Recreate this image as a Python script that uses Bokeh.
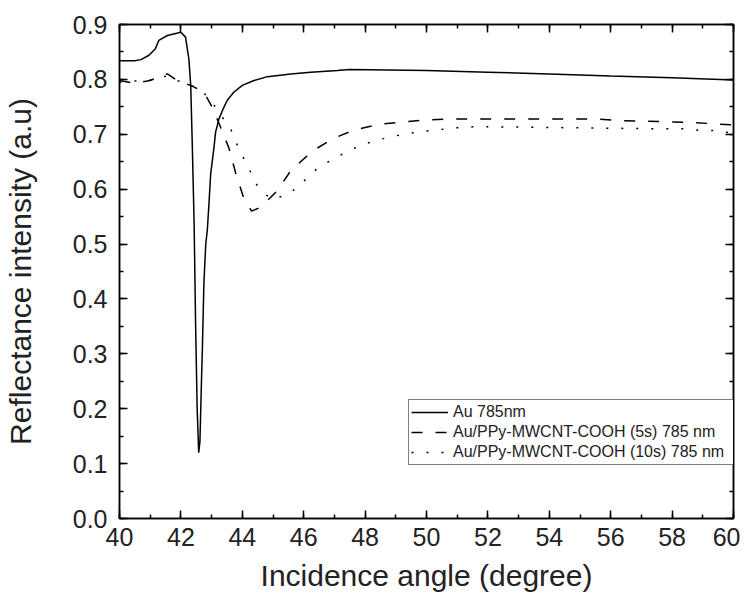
from bokeh.plotting import figure
from bokeh.models import (Range1d, LinearAxis, SingleIntervalTicker, NumeralTickFormatter,
                          Legend, LegendItem)
from bokeh.embed import file_html
from bokeh.resources import INLINE

# ---- data ----
au_angle = [40.0, 40.5, 40.7, 40.96, 41.17, 41.28, 41.56, 42.0, 42.15, 42.26, 42.32, 42.37,
            42.43, 42.48, 42.53, 42.58, 42.62, 42.67, 42.70, 42.75, 42.81, 42.86, 42.92, 42.97,
            43.08, 43.13, 43.24, 43.35, 43.51, 43.73, 44.0, 44.38, 44.82, 45.58, 46.23, 47.1,
            47.5, 50.0, 52.0, 54.0, 56.0, 58.0, 60.0]
au_refl = [0.834, 0.834, 0.836, 0.844, 0.856, 0.871, 0.880, 0.886, 0.877, 0.837, 0.789, 0.683,
           0.540, 0.350, 0.200, 0.120, 0.140, 0.250, 0.310, 0.430, 0.500, 0.525, 0.579, 0.628,
           0.677, 0.704, 0.728, 0.743, 0.762, 0.777, 0.789, 0.798, 0.805, 0.810, 0.813, 0.816,
           0.818, 0.816, 0.813, 0.810, 0.806, 0.803, 0.799]

ppy5_angle = [40.0, 40.5, 41.0, 41.3, 41.56, 41.88, 42.32, 42.75, 43.02, 43.3, 43.57, 43.79,
              44.04, 44.3, 44.6, 45.15, 45.58, 46.3, 46.95, 47.6, 48.42, 49.18, 49.94, 50.76,
              55.5, 56.3, 57.1, 58.8, 60.0]
ppy5_refl = [0.798, 0.793, 0.798, 0.805, 0.810, 0.798, 0.789, 0.777, 0.749, 0.712, 0.674, 0.628,
             0.585, 0.560, 0.567, 0.598, 0.634, 0.670, 0.692, 0.707, 0.718, 0.722, 0.726, 0.728,
             0.728, 0.725, 0.724, 0.721, 0.717]

ppy10_angle = [40.0, 40.5, 41.0, 41.6, 41.88, 42.3, 42.7, 42.97, 43.3, 43.62, 43.79, 44.0,
               44.22, 44.44, 44.71, 45.0, 45.56, 45.96, 46.29, 46.65, 47.05, 47.49, 47.89, 48.39,
               48.85, 49.33, 49.77, 50.26, 50.75, 51.67, 57.5, 58.4, 58.9, 59.3, 60.0]
ppy10_refl = [0.795, 0.797, 0.799, 0.807, 0.798, 0.790, 0.778, 0.762, 0.735, 0.710, 0.686, 0.661,
              0.637, 0.610, 0.592, 0.581, 0.593, 0.612, 0.631, 0.645, 0.658, 0.670, 0.681, 0.689,
              0.696, 0.700, 0.705, 0.707, 0.711, 0.714, 0.710, 0.710, 0.707, 0.707, 0.702]

labels = ["Au 785nm", "Au/PPy-MWCNT-COOH (5s) 785 nm", "Au/PPy-MWCNT-COOH (10s) 785 nm"]
x_title = "Incidence angle (degree)"
y_title = "Reflectance intensity (a.u)"

FONT = "Liberation Sans"
TXT = "#222222"

p = figure(frame_width=614, frame_height=494,
           x_range=Range1d(40, 60), y_range=Range1d(0, 0.9),
           output_backend="svg", toolbar_location=None,
           min_border_left=119, min_border_right=7, min_border_top=24, min_border_bottom=71,
           x_axis_label=x_title, y_axis_label=y_title)
p.grid.visible = False
p.background_fill_color = "white"
p.border_fill_color = "white"
p.outline_line_color = "black"
p.outline_line_width = 1.5

for ax in p.xaxis:
    ax.ticker = SingleIntervalTicker(interval=2, num_minor_ticks=2)
for ax in p.yaxis:
    ax.ticker = SingleIntervalTicker(interval=0.1, num_minor_ticks=2)
    ax.formatter = NumeralTickFormatter(format="0.0")


def style(ax):
    ax.axis_line_color = "black"
    ax.axis_line_width = 1.5
    ax.major_tick_in = 8
    ax.major_tick_out = 0
    ax.minor_tick_in = 4
    ax.minor_tick_out = 0
    ax.major_tick_line_color = "black"
    ax.minor_tick_line_color = "black"
    ax.major_tick_line_width = 1.5
    ax.minor_tick_line_width = 1.5
    ax.major_label_text_font = FONT
    ax.major_label_text_font_size = "25px"
    ax.major_label_text_color = TXT
    ax.axis_label_text_font = FONT
    ax.axis_label_text_font_size = "30px"
    ax.axis_label_text_font_style = "normal"
    ax.axis_label_text_color = TXT


style(p.xaxis[0])
style(p.yaxis[0])
p.xaxis[0].major_label_standoff = 9
p.xaxis[0].axis_label_standoff = 10
p.yaxis[0].major_label_standoff = 12
p.yaxis[0].axis_label_standoff = 33

top = LinearAxis(ticker=SingleIntervalTicker(interval=2, num_minor_ticks=2))
right = LinearAxis(ticker=SingleIntervalTicker(interval=0.1, num_minor_ticks=2))
for ax in (top, right):
    style(ax)
    ax.major_label_text_font_size = "1px"
    ax.major_label_text_color = None
    ax.major_label_standoff = 0
p.add_layout(top, "above")
p.add_layout(right, "right")

r1 = p.line(au_angle, au_refl, line_color="black", line_width=1.5)
r2 = p.line(ppy5_angle, ppy5_refl, line_color="black", line_width=1.5, line_dash="11 13")
r3 = p.line(ppy10_angle, ppy10_refl, line_color="black", line_width=1.5, line_dash="2 13")

legend = Legend(items=[LegendItem(label=labels[0], renderers=[r1]),
                       LegendItem(label=labels[1], renderers=[r2]),
                       LegendItem(label=labels[2], renderers=[r3])],
                location=(289, 53))
legend.margin = 0
legend.padding = 2
legend.spacing = 0
legend.glyph_width = 37
legend.glyph_height = 20
legend.label_height = 20
legend.label_width = 278
legend.label_standoff = 5
legend.label_text_font = FONT
legend.label_text_font_size = "16px"
legend.label_text_color = TXT
legend.border_line_color = "black"
legend.border_line_width = 1.5
legend.background_fill_alpha = 1.0
p.add_layout(legend)

open("out.html", "w").write(file_html(p, INLINE))
